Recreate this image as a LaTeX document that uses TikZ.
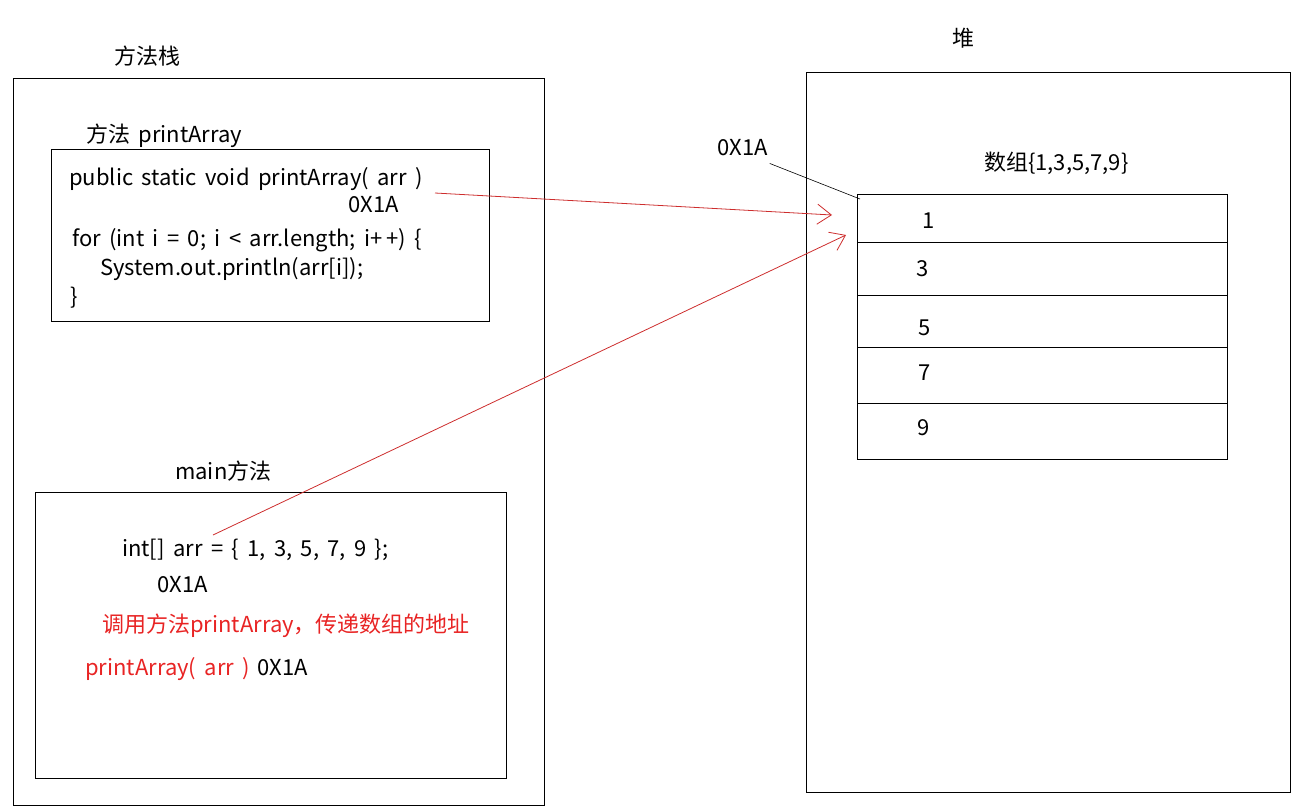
\documentclass[tikz,border=0pt]{standalone}
\usepackage{fontspec}
\setmainfont{Noto Sans CJK SC}[WordSpace=1.7]
\usetikzlibrary{arrows.meta}
\definecolor{callred}{RGB}{232,36,36}
\definecolor{linkred}{RGB}{205,45,45}

\begin{document}
\begin{tikzpicture}[x=1pt, y=-1pt,
box/.style={draw, line width=1pt},
code/.style={anchor=base west, inner sep=0pt, font=\fontsize{22}{26}\selectfont},
redcode/.style={code, text=callred},
link/.style={draw=linkred, line width=0.8pt, -{Straight Barb[length=14pt, width=20pt]}}]
\useasboundingbox (0,0) rectangle (1304,806);
% method stack
\node[code] (stacktitle) at (114,64) {方法栈};
\draw[box] (13,78) rectangle (544,805);
% printArray frame
\node[code] (pltitle) at (86,142) {方法 printArray};
\draw[box] (51,149) rectangle (489,321);
\node[code] (sig) at (69,185) {public static void printArray( arr )};
\node[code] (sigaddr) at (348,212) {0X1A};
\node[code] (loop) at (72,246) {for (int i = 0; i < arr.length; i+\,+) \{};
\node[code] (body) at (100,275) {System.out.println(arr[i]);};
\node[code] (close) at (70,304) {\}};
% main frame
\node[code] (maintitle) at (175,479) {main方法};
\draw[box] (35,492) rectangle (506,778);
\node[code] (decl) at (122,556) {int[] arr = \{ 1, 3, 5, 7, 9 \};};
\node[code] (decladdr) at (157,592) {0X1A};
\node[redcode] (note) at (102,632) {调用方法printArray，传递数组的地址};
\node[redcode] (call) at (85,675) {printArray( arr )};
\node[code] (calladdr) at (257,675) {0X1A};
% heap
\node[code] (heaptitle) at (952,46) {堆};
\draw[box] (806,72) rectangle (1290,792);
\node[code] (heapaddr) at (717,155) {0X1A};
\node[code] (arrtitle) at (984,170) {数组\{1,3,5,7,9\}};
\draw[box] (857,194) rectangle (1227,459);
\foreach \y in {242,295,347,403}
  \draw[line width=1pt] (857,\y) -- (1227,\y);
\node[code] (v1) at (922,228) {1};
\node[code] (v3) at (916,276) {3};
\node[code] (v5) at (918,335) {5};
\node[code] (v7) at (918,380) {7};
\node[code] (v9) at (917,435) {9};
% references
\coordinate (sigend) at (435,193);
\coordinate (cellA) at (832,215);
\coordinate (declend) at (213,535);
\coordinate (cellB) at (846,235);
\coordinate (corner) at (860,199);
\draw[link] (sigend) -- (cellA);
\draw[link] (declend) -- (cellB);
\draw[line width=0.6pt] (heapaddr.south east) ++(2,8) -- (corner);
\end{tikzpicture}
\end{document}
